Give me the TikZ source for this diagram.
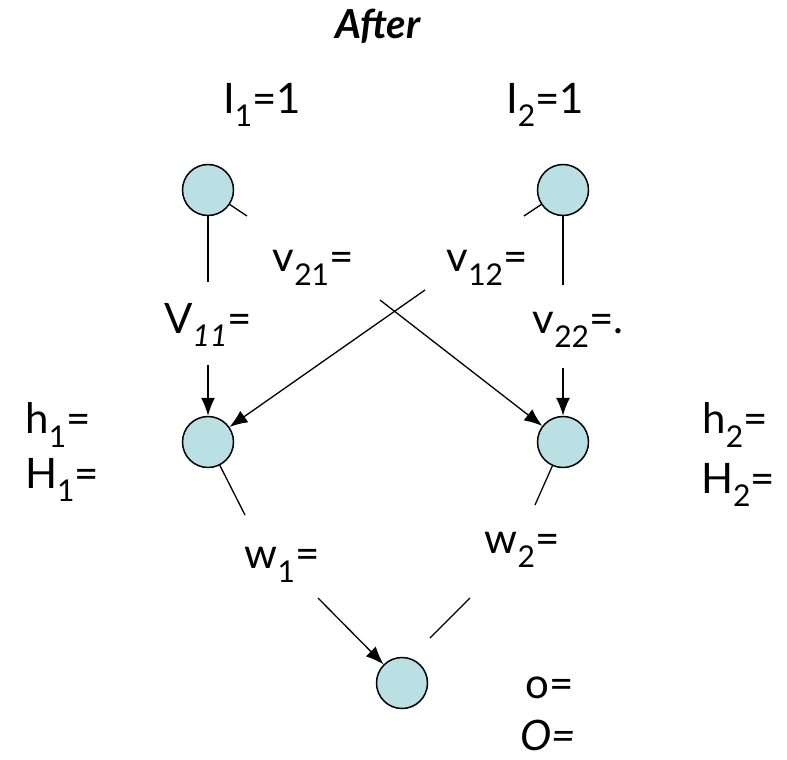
\documentclass[tikz,border=0pt]{standalone}
\usepackage{fontspec}
\setmainfont{Lato}
\usetikzlibrary{arrows.meta}
\definecolor{nodefill}{RGB}{187,224,227}
\newcommand{\sbs}[1]{\raisebox{-0.32em}{\fontsize{30}{30}\selectfont #1}}
\begin{document}
\begin{tikzpicture}[x=1pt,y=-1pt,
  neuron/.style={circle,draw=black,line width=1.5pt,fill=nodefill,minimum size=51pt,inner sep=0pt},
  lbl/.style={font=\fontsize{42}{46}\selectfont,inner sep=0pt},
  wire/.style={line width=1.3pt},
  arr/.style={wire,-{Latex[length=18pt,width=14pt]}}]
\useasboundingbox (0,0) rectangle (787,760);
% title
\node[lbl,font=\fontsize{40}{44}\selectfont\bfseries\itshape] (title) at (378,26) {After};
% input labels
\node[lbl] (tI1) at (262,105) {I\sbs{1}=1};
\node[lbl] (tI2) at (545,105) {I\sbs{2}=1};
% neurons
\node[neuron] (i1) at (208,190) {};
\node[neuron] (i2) at (563,190) {};
\node[neuron] (h1) at (208,442) {};
\node[neuron] (h2) at (563,442) {};
\node[neuron] (o) at (402,683) {};
% weight labels
\node[lbl] (lv11) at (208,325) {V\sbs{\itshape 11}=};
\node[lbl] (lv21) at (313,268) {v\sbs{21}=};
\node[lbl] (lv12) at (487,268) {v\sbs{12}=};
\node[lbl] (lv22) at (578,330) {v\sbs{22}=.};
\node[lbl] (lw1) at (282,565) {w\sbs{1}=};
\node[lbl] (lw2) at (522,550) {w\sbs{2}=};
% hidden / output labels
\node[lbl] (th1) at (58,425) {h\sbs{1}=};
\node[lbl] (tH1) at (62,480) {H\sbs{1}=};
\node[lbl] (th2) at (735,425) {h\sbs{2}=};
\node[lbl] (tH2) at (738,485) {H\sbs{2}=};
\node[lbl] (to) at (550,688) {o=};
\node[lbl] (tO) at (548,735) {\itshape O=};
% connector ends
\coordinate (a11) at (208,282);
\coordinate (b11) at (208,365);
\coordinate (a21) at (247,216);
\coordinate (b21) at (380,300);
\coordinate (a12) at (524,216);
\coordinate (b12) at (425,290);
\coordinate (a22) at (563,285);
\coordinate (b22) at (563,368);
\coordinate (aw1) at (245,515);
\coordinate (bw1) at (318,598);
\coordinate (aw2) at (535,505);
\coordinate (bw2) at (430,638);
\coordinate (cw2) at (470,598);
% connectors
\draw[wire] (i1) -- (a11);
\draw[arr] (b11) -- (h1);
\draw[wire] (i1) -- (a21);
\draw[arr] (b21) -- (h2);
\draw[wire] (i2) -- (a12);
\draw[arr] (b12) -- (h1);
\draw[wire] (i2) -- (a22);
\draw[arr] (b22) -- (h2);
\draw[wire] (h1) -- (aw1);
\draw[arr] (bw1) -- (o);
\draw[wire] (h2) -- (aw2);
\draw[wire] (cw2) -- (bw2);
\end{tikzpicture}
\end{document}
